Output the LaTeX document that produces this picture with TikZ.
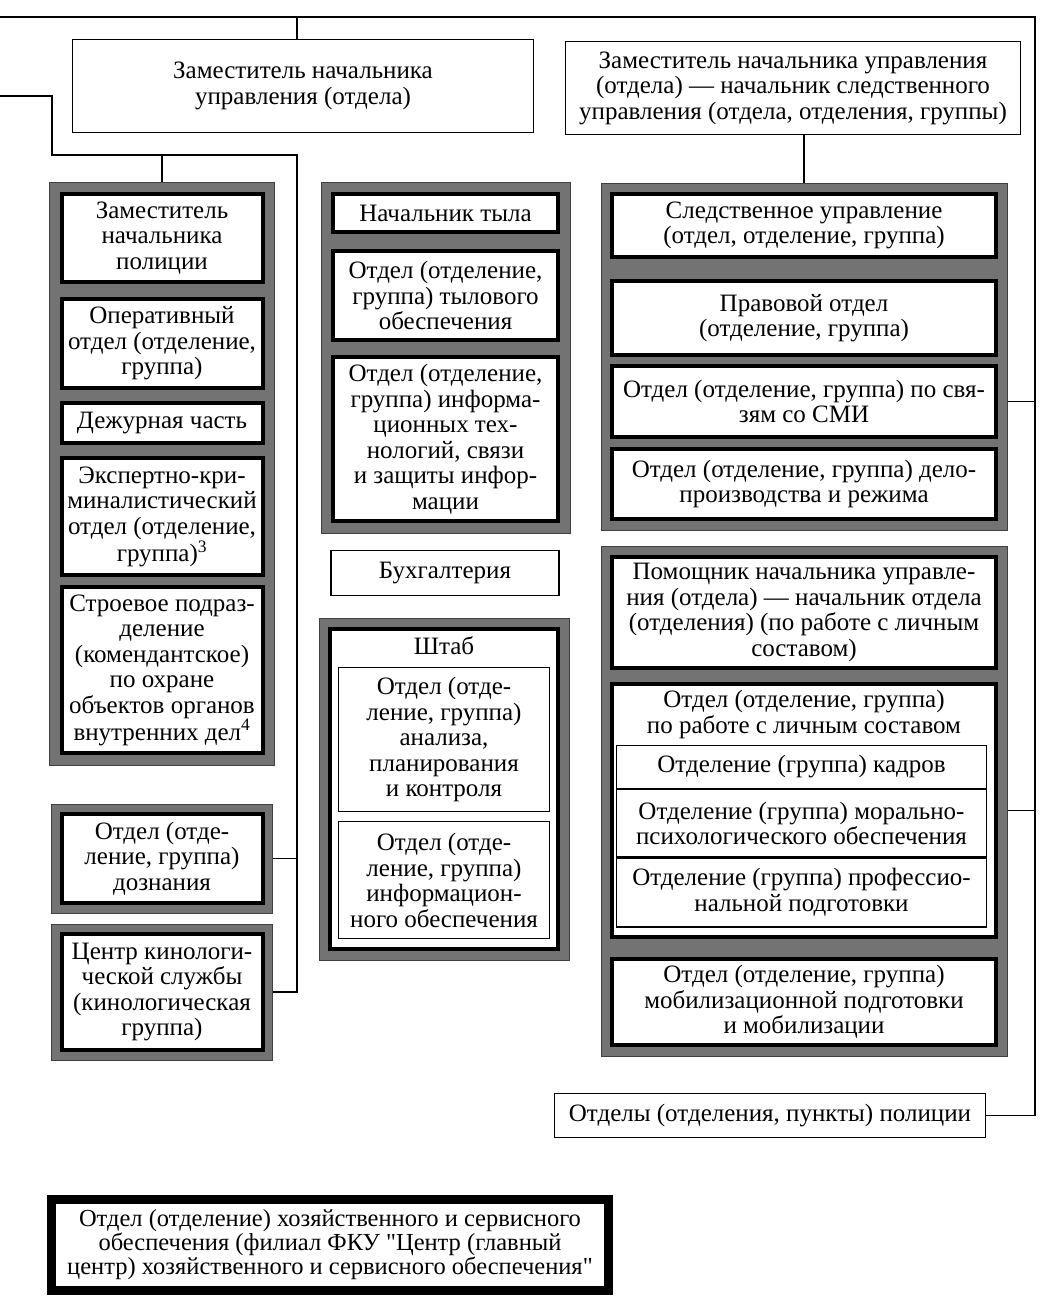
\documentclass[tikz,border=0pt]{standalone}
\usepackage{fontspec}
\setmainfont{Liberation Serif}[Ligatures=TeXOff]
\usetikzlibrary{positioning,fit,backgrounds}

\begin{document}
\begin{tikzpicture}[x=1pt,y=-1pt,node distance=10pt,
    font=\fontsize{25}{25.5}\selectfont,
    box/.style={draw,line width=4pt,fill=white,align=center,inner sep=2pt},
    thinbox/.style={draw,line width=1.2pt,fill=white,align=center,inner sep=2pt},
    panel/.style={fill=black!55,draw=black!75,line width=1pt,inner sep=9pt},
    wire/.style={line width=1.2pt}]

    \useasboundingbox (0,0) rectangle (1050,1303);

    \node[thinbox,minimum width=461pt,minimum height=93pt] (tzam) at (303,86) {Заместитель начальника\\управления (отдела)};
    \node[thinbox,minimum width=455pt,minimum height=93pt] (tzamsled) at (793,88) {Заместитель начальника управления\\(отдела) — начальник следственного\\управления (отдела, отделения, группы)};

    \node[box,minimum width=201pt,minimum height=88pt] (lzam) at (162,238) {Заместитель\\начальника\\полиции};
    \node[box,minimum width=201pt,minimum height=89pt] (loper) [below=13pt of lzam] {Оперативный\\отдел (отделение,\\группа)};
    \node[box,minimum width=201pt,minimum height=40pt] (ldezh) [below=11pt of loper] {Дежурная часть};
    \node[box,minimum width=201pt,minimum height=117pt] (lekspert) [below=11pt of ldezh] {Экспертно-кри-\\миналистический\\отдел (отделение,\\группа)\textsuperscript{3}};
    \node[box,minimum width=201pt,minimum height=166pt] (lstroy) [below=8pt of lekspert] {Строевое подраз-\\деление\\(комендантское)\\по охране\\объектов органов\\внутренних дел\textsuperscript{4}};

    \node[box,minimum width=201pt,minimum height=89pt] (ldozn) at (162,858.5) {Отдел (отде-\\ление, группа)\\дознания};
    \node[box,minimum width=201pt,minimum height=116pt] (lkinol) at (162,992) {Центр кинологи-\\ческой службы\\(кинологическая\\группа)};

    \node[box,minimum width=225pt,minimum height=38pt] (mtyl) at (445.5,213) {Начальник тыла};
    \node[box,minimum width=225pt,minimum height=89pt] (mtylotd) [below=15pt of mtyl] {Отдел (отделение,\\группа) тылового\\обеспечения};
    \node[box,minimum width=225pt,minimum height=164pt] (mit) [below=13pt of mtylotd] {Отдел (отделение,\\группа) информа-\\ционных тех-\\нологий, связи\\и защиты инфор-\\мации};

    \node[thinbox,minimum width=228pt,minimum height=45pt] (mbuh) at (445,573) {Бухгалтерия};

    \node[box,minimum width=228pt,minimum height=320pt] (mshtab) at (444,789) {};
    \node[align=center,below=6pt of mshtab.north] (shtabtitle) {Штаб};
    \node[thinbox,minimum width=211pt,minimum height=144pt] (manal) at (444,739.5) {Отдел (отде-\\ление, группа)\\анализа,\\планирования\\и контроля};
    \node[thinbox,minimum width=211pt,minimum height=117pt] (minfo) [below=9pt of manal] {Отдел (отде-\\ление, группа)\\информацион-\\ного обеспечения};

    \node[box,minimum width=384pt,minimum height=63pt] (rsled) at (804,225.5) {Следственное управление\\(отдел, отделение, группа)};
    \node[box,minimum width=384pt,minimum height=74pt] (rprav) [below=20pt of rsled] {Правовой отдел\\(отделение, группа)};
    \node[box,minimum width=384pt,minimum height=71pt] (rsmi) [below=7pt of rprav] {Отдел (отделение, группа) по свя-\\зям со СМИ};
    \node[box,minimum width=384pt,minimum height=70pt] (rdelo) [below=8pt of rsmi] {Отдел (отделение, группа) дело-\\производства и режима};

    \node[box,minimum width=384pt,minimum height=111pt] (rpom) at (804,612.5) {Помощник начальника управле-\\ния (отдела) — начальник отдела\\(отделения) (по работе с личным\\составом)};
    \node[box,minimum width=384pt,minimum height=253pt] (rls) [below=12pt of rpom] {};
    \node[align=center,below=5pt of rls.north] (rlstitle) {Отдел (отделение, группа)\\по работе с личным составом};
    \node[thinbox,minimum width=370pt,minimum height=43pt] (rkadr) at (801.5,767) {Отделение (группа) кадров};
    \node[thinbox,minimum width=370pt,minimum height=67pt] (rmoral) [below=0pt of rkadr] {Отделение (группа) морально-\\психологического обеспечения};
    \node[thinbox,minimum width=370pt,minimum height=69pt] (rprof) [below=0pt of rmoral] {Отделение (группа) профессио-\\нальной подготовки};
    \node[box,minimum width=384pt,minimum height=86pt] (rmob) [below=18pt of rls] {Отдел (отделение, группа)\\мобилизационной подготовки\\и мобилизации};

    \node[thinbox,minimum width=431pt,minimum height=44pt] (rpol) at (770,1115.5) {Отделы (отделения, пункты) полиции};

    \node[draw,line width=9pt,minimum width=557pt,minimum height=91pt,align=center,font=\fontsize{24.5}{24}\selectfont] (xoz) at (330,1245) {Отдел (отделение) хозяйственного и сервисного\\обеспечения (филиал ФКУ "Центр (главный\\центр) хозяйственного и сервисного обеспечения"};

    \begin{scope}[on background layer]
        \node[panel,fit=(lzam)(lstroy),inner sep=10pt] (lpanA) {};
        \node[panel,fit=(ldozn),inner sep=8pt] (lpanB) {};
        \node[panel,fit=(lkinol),inner sep=8pt] (lpanC) {};
        \node[panel,fit=(mtyl)(mit),inner sep=10pt] (mpanA) {};
        \node[panel,fit=(mshtab)] (mpanB) {};
        \node[panel,fit=(rsled)(rdelo)] (rpanA) {};
        \node[panel,fit=(rpom)(rmob)] (rpanB) {};
    \end{scope}

    \coordinate (inA) at (0,17);
    \coordinate (inB) at (0,96);
    \coordinate (rbus) at (1035,17);
    \coordinate (lbend) at (52,155);
    \coordinate (lbus) at (297,155);

    \draw[wire] (inA) -- (rbus) |- (rpol);
    \draw[wire] (tzam.north -| lbus) -- (inA -| lbus);
    \draw[wire] (tzamsled.south -| rsled) -- (rpanA.north -| rsled);
    \draw[wire] (inB) -| (lbend) -- (lbus) |- (lpanC);
    \draw[wire] (lpanB) -- (lpanB -| lbus);
    \draw[wire] (lzam |- lbus) -- (lpanA);

    \foreach \from/\to in {rsmi/rpanA, rls/rpanB}
        {
        \draw[wire] (\from.east -| \to.east) -- (\from.east -| rbus);
        }

\end{tikzpicture}
\end{document}
